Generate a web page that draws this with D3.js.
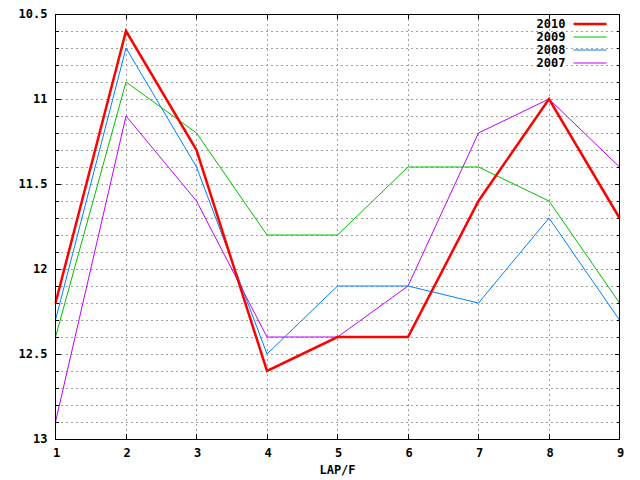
<!doctype html>
<html>
<head>
<meta charset="utf-8">
<title>LAP/F</title>
<style>
body { margin: 0; background: #fff; }
text { font-family: "DejaVu Sans Mono", monospace; font-weight: bold; font-size: 12px; fill: #000; }
</style>
</head>
<body>
<svg width="640" height="480"></svg>
<script src="https://cdn.jsdelivr.net/npm/d3@7"></script>
<script>
var laps = [1, 2, 3, 4, 5, 6, 7, 8, 9];
var years = ["2010", "2009", "2008", "2007"];
var colors = ["#ff0000", "#00c000", "#0080ff", "#c000ff"];
var widths = [2.5, 1, 1, 1];
var v2010 = [12.2, 10.6, 11.3, 12.6, 12.4, 12.4, 11.6, 11.0, 11.7];
var v2009 = [12.4, 10.9, 11.2, 11.8, 11.8, 11.4, 11.4, 11.6, 12.2];
var v2008 = [12.3, 10.7, 11.4, 12.5, 12.1, 12.1, 12.2, 11.7, 12.3];
var v2007 = [12.9, 11.1, 11.6, 12.4, 12.4, 12.1, 11.2, 11.0, 11.4];
var yMajor = [10.5, 11, 11.5, 12, 12.5, 13];
var yMinor = d3.range(105, 131).map(function(d) { return d / 10; });
var xLabel = "LAP/F";

var series = [v2010, v2009, v2008, v2007];

var svg = d3.select("svg"),
    margin = { top: 14, right: 20.5, bottom: 41, left: 55.5 },
    width = +svg.attr("width") - margin.left - margin.right,
    height = +svg.attr("height") - margin.top - margin.bottom,
    g = svg.append("g").attr("transform", "translate(" + margin.left + "," + margin.top + ")");

var x = d3.scaleLinear().domain([1, 9]).range([0, width]);
var y = d3.scaleLinear().domain([10.5, 13]).range([0, height]);

// grid
g.selectAll(".hgrid").data(yMinor.slice(1, -1)).enter().append("line")
    .attr("x1", 0).attr("x2", width)
    .attr("y1", function(d) { return Math.round(y(d)) + 0.5; })
    .attr("y2", function(d) { return Math.round(y(d)) + 0.5; })
    .attr("stroke", "#a0a0a0").attr("stroke-dasharray", "2,3")
    .attr("shape-rendering", "crispEdges");
g.selectAll(".vgrid").data(laps.slice(1, -1)).enter().append("line")
    .attr("y1", 0).attr("y2", height)
    .attr("x1", function(d) { return Math.round(x(d)); })
    .attr("x2", function(d) { return Math.round(x(d)); })
    .attr("stroke", "#a0a0a0").attr("stroke-dasharray", "2,3")
    .attr("shape-rendering", "crispEdges");

// ticks (inward, mirrored)
var tickG = g.append("g").attr("stroke", "#000").attr("shape-rendering", "crispEdges");
yMinor.forEach(function(d) {
    var len = yMajor.indexOf(d) >= 0 ? 5 : 3;
    var yy = Math.round(y(d)) + 0.5;
    tickG.append("line").attr("x1", 0).attr("x2", len).attr("y1", yy).attr("y2", yy);
    tickG.append("line").attr("x1", width - len).attr("x2", width).attr("y1", yy).attr("y2", yy);
});
laps.forEach(function(d) {
    var xx = Math.round(x(d));
    tickG.append("line").attr("x1", xx).attr("x2", xx).attr("y1", height).attr("y2", height - 5);
    tickG.append("line").attr("x1", xx).attr("x2", xx).attr("y1", 0).attr("y2", 5);
});

// labels
g.selectAll(".ylab").data(yMajor).enter().append("text")
    .attr("x", -8).attr("y", function(d) { return y(d) + 4; })
    .attr("text-anchor", "end")
    .text(function(d) { return d3.format("")(d); });
g.selectAll(".xlab").data(laps).enter().append("text")
    .attr("x", function(d) { return x(d) + 1; }).attr("y", height + 18)
    .attr("text-anchor", "middle")
    .text(function(d) { return d; });
g.append("text").attr("x", width / 2).attr("y", height + 35)
    .attr("text-anchor", "middle").text(xLabel);

// lines
var line = d3.line()
    .x(function(d, i) { return x(laps[i]); })
    .y(function(d) { return y(d); });

series.slice().reverse().forEach(function(s, k) {
    var i = series.length - 1 - k;
    g.append("path").datum(s)
        .attr("fill", "none")
        .attr("stroke", colors[i])
        .attr("stroke-width", widths[i])
        .attr("stroke-linejoin", "miter")
        .attr("d", line);
});

// border
g.append("rect").attr("x", 0).attr("y", 0.5).attr("width", width).attr("height", height)
    .attr("fill", "none").attr("stroke", "#000").attr("shape-rendering", "crispEdges");

// legend
var leg = g.append("g");
years.forEach(function(yr, i) {
    var yy = 10 + i * 13;
    leg.append("text").attr("x", 510).attr("y", yy + 4).attr("text-anchor", "end").text(yr);
    leg.append("line").attr("x1", 518).attr("x2", 551).attr("y1", yy).attr("y2", yy)
        .attr("stroke", colors[i]).attr("stroke-width", widths[i]);
});
</script>
</body>
</html>
